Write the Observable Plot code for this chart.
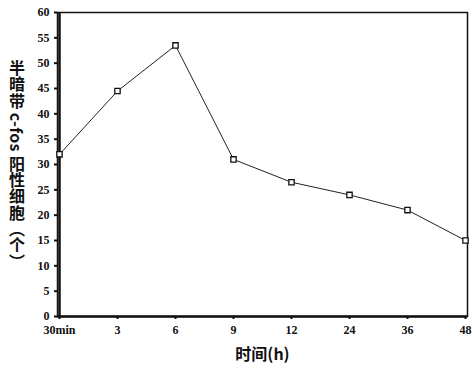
<!DOCTYPE html>
<html>
<head>
<meta charset="utf-8">
<script src="https://cdn.jsdelivr.net/npm/d3@7"></script>
<script src="https://cdn.jsdelivr.net/npm/@observablehq/plot@0.6"></script>
<style>
  html, body { margin: 0; padding: 0; background: #fff; }
  #wrap { position: relative; width: 476px; height: 369px; overflow: hidden; }
  #ylab {
    position: absolute; left: 8px; top: 60px;
    writing-mode: vertical-rl;
    font-family: "Noto Sans CJK SC", sans-serif;
    font-weight: bold; font-size: 16px; color: #111; line-height: 18px;
    letter-spacing: 0.3px;
  }
</style>
</head>
<body>
<div id="wrap"><div id="ylab">半暗带 c-fos 阳性细胞（个）</div></div>
<script>
const times = ["30min", "3", "6", "9", "12", "24", "36", "48"];
const counts = [32, 44.5, 53.5, 31, 26.5, 24, 21, 15];
const yTicks = [0, 5, 10, 15, 20, 25, 30, 35, 40, 45, 50, 55, 60];
const xLabel = "时间(h)";

const data = times.map((t, i) => ({t, v: counts[i]}));

const chart = Plot.plot({
  width: 476,
  height: 369,
  marginLeft: 57,
  marginRight: 9,
  marginTop: 12,
  marginBottom: 53,
  style: {fontFamily: "'Liberation Serif', serif", fontWeight: "bold", fontSize: "12px", color: "#111", background: "#fff"},
  x: {type: "point", domain: times, padding: 0, label: null},
  y: {domain: [0, 60], label: null},
  marks: [
    Plot.frame({stroke: "#111", strokeWidth: 1.5}),
    Plot.ruleX([times[0]], {stroke: "#111", strokeWidth: 2.5}),
    Plot.ruleY([0], {stroke: "#111", strokeWidth: 2.5}),
    Plot.axisY({ticks: yTicks, tickSize: 3, tickPadding: 5, strokeWidth: 2, fontSize: 12}),
    Plot.axisX({ticks: times, tickSize: 3, tickPadding: 6, strokeWidth: 2, fontSize: 12}),
    Plot.line(data, {x: "t", y: "v", stroke: "#222", strokeWidth: 1}),
    Plot.dot(data, {x: "t", y: "v", symbol: "square", r: 3, stroke: "#111", fill: "#fff", strokeWidth: 1.3}),
    Plot.text([xLabel], {frameAnchor: "bottom", dy: 43, fontSize: 16, fontFamily: "Noto Sans CJK SC", fontWeight: "bold", fill: "#111"})
  ]
});
document.getElementById("wrap").prepend(chart);
</script>
</body>
</html>
